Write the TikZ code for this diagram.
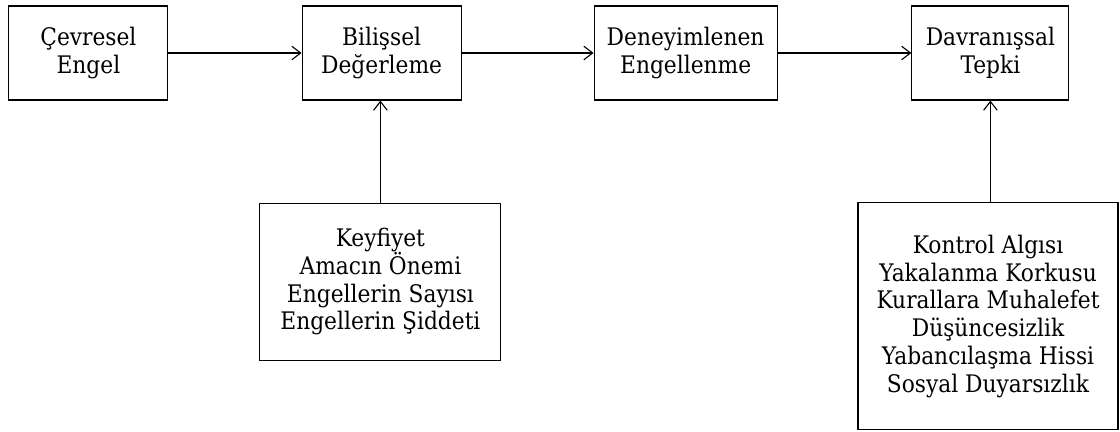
\documentclass[tikz,border=0pt]{standalone}
\usepackage{fontspec}
\setmainfont{DejaVu Serif Condensed}
\usepackage{tikz}
\usetikzlibrary{arrows.meta}

\tikzset{
  kutu/.style={draw, line width=0.8pt, align=center, inner sep=0pt,
    minimum height=2.35cm, font=\fontsize{17.2}{19.8}\selectfont},
  ok/.style={-{Straight Barb[length=2.2mm, width=3.4mm]}, line width=0.8pt}
}

\begin{document}
\begin{tikzpicture}[x=1cm,y=1cm]
\useasboundingbox (0,0) rectangle (28,10.8);

% ust sira
\node[kutu, minimum width=3.975cm] (cevre) at (2.21,9.475) {Çevresel\\Engel};
\node[kutu, minimum width=3.975cm] (bilis) at (9.54,9.475) {Bilişsel\\Değerleme};
\node[kutu, minimum width=4.575cm] (deney) at (17.14,9.475) {Deneyimlenen\\Engellenme};
\node[kutu, minimum width=3.925cm] (davran) at (24.76,9.475) {Davranışsal\\Tepki};

% alt kutular
\node[kutu, minimum width=6.025cm, minimum height=3.925cm] (etken) at (9.51,3.76)
  {Keyfiyet\\Amacın Önemi\\Engellerin Sayısı\\Engellerin Şiddeti};
\node[kutu, minimum width=6.5cm, minimum height=5.675cm] (tepki) at (24.70,2.89)
  {Kontrol Algısı\\Yakalanma Korkusu\\Kurallara Muhalefet\\Düşüncesizlik\\Yabancılaşma Hissi\\Sosyal Duyarsızlık};

% oklar
\draw[ok] (cevre) -- (bilis);
\draw[ok] (bilis) -- (deney);
\draw[ok] (deney) -- (davran);
\draw[ok] (etken.north) -- (etken.north |- bilis.south);
\draw[ok] (tepki.north -| davran.south) -- (davran.south);
\end{tikzpicture}
\end{document}
